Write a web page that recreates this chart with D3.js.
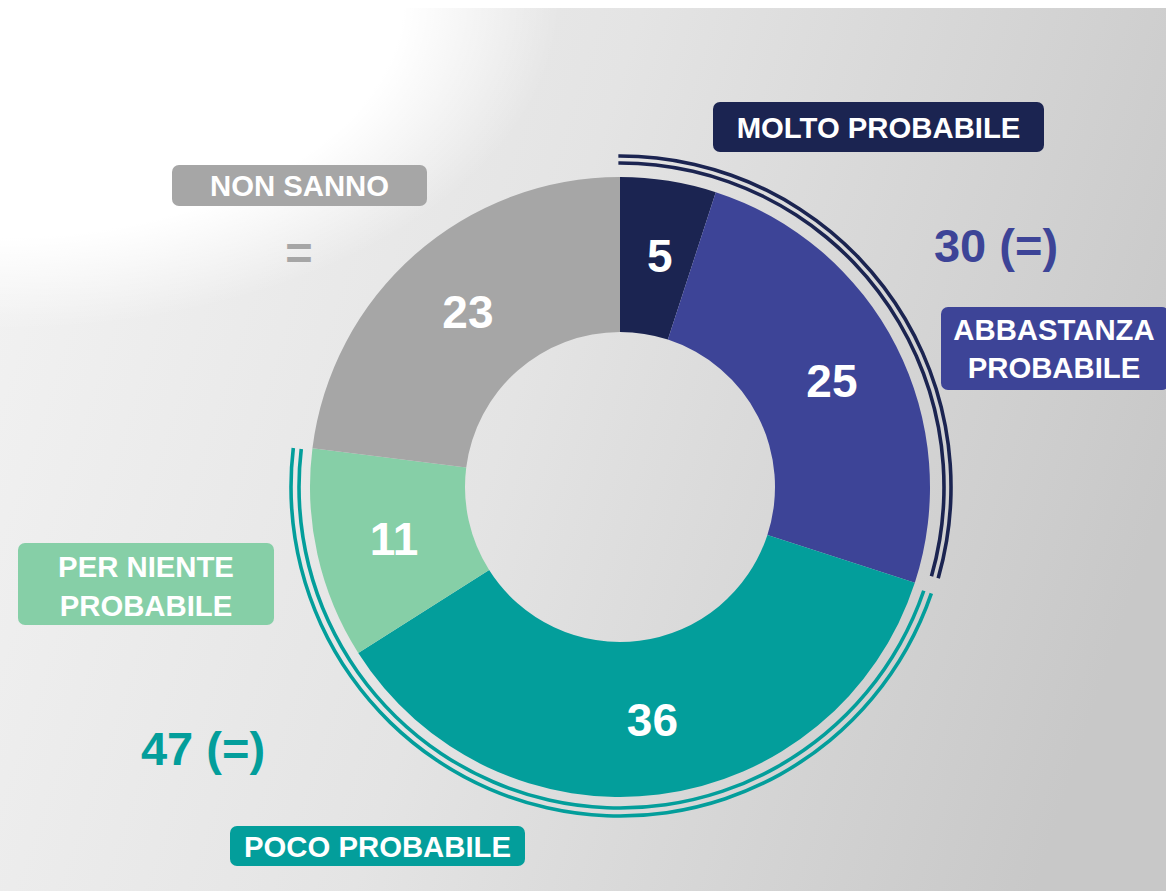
<!DOCTYPE html>
<html>
<head>
<meta charset="utf-8">
<script src="https://cdn.jsdelivr.net/npm/d3@7"></script>
<style>
  html, body { margin: 0; padding: 0; background: #fff; }
  svg { display: block; font-family: "Liberation Sans", Arial, sans-serif; }
  .box-text { fill: #fff; font-weight: bold; font-size: 29.3px; text-anchor: middle; }
  .slice-value { fill: #fff; font-weight: bold; font-size: 46px; text-anchor: middle; }
  .group-total { font-weight: bold; font-size: 47px; text-anchor: middle; }
</style>
</head>
<body>
<div id="chart"></div>
<script>
// Data: shares in %, clockwise from 12 o'clock
const categories = ["MOLTO PROBABILE", "ABBASTANZA PROBABILE", "POCO PROBABILE", "PER NIENTE PROBABILE", "NON SANNO"];
const values     = [5, 25, 36, 11, 23];

// the two grouped totals drawn as double arcs round the donut
const groupNames   = ["probabile", "improbabile"];
const groupMembers = [[0, 1], [2, 3]];
const groupTotals  = ["30 (=)", "47 (=)"];
const nonSannoNote = "=";

// Colors
const COLOR = ["#1b2451", "#3d4497", "#039e9b", "#86cfa7", "#a6a6a6"];
const GROUP_COLOR = ["#1b2451", "#039e9b"];

const W = 1166, H = 891;
const cx = 620, cy = 487;
const R = 310, r = 155;

const svg = d3.select("#chart").append("svg")
  .attr("width", W).attr("height", H)
  .attr("viewBox", `0 0 ${W} ${H}`);

// background: white top-left corner, gray gradient towards the right
const defs = svg.append("defs");
const bg = defs.append("linearGradient").attr("id", "bg")
  .attr("x1", 0).attr("y1", 0.3).attr("x2", 1).attr("y2", 0.55);
bg.append("stop").attr("offset", 0).attr("stop-color", "#f1f1f1");
bg.append("stop").attr("offset", 0.45).attr("stop-color", "#e4e4e4");
bg.append("stop").attr("offset", 1).attr("stop-color", "#c8c8c8");

const glow = defs.append("radialGradient").attr("id", "glow")
  .attr("gradientUnits", "userSpaceOnUse")
  .attr("cx", 0).attr("cy", 0).attr("r", 1)
  .attr("gradientTransform", "scale(560,330)");
glow.append("stop").attr("offset", 0).attr("stop-color", "#fff").attr("stop-opacity", 1);
glow.append("stop").attr("offset", 0.72).attr("stop-color", "#fff").attr("stop-opacity", 1);
glow.append("stop").attr("offset", 1).attr("stop-color", "#fff").attr("stop-opacity", 0);

svg.append("rect").attr("width", W).attr("height", H).attr("fill", "url(#bg)");
svg.append("rect").attr("width", W).attr("height", H).attr("fill", "url(#glow)");
svg.append("rect").attr("width", W).attr("height", 8).attr("fill", "#fff");

const g = svg.append("g").attr("transform", `translate(${cx},${cy})`);

// Donut
const pie = d3.pie().sort(null).value(d => d)(values);
const arc = d3.arc().innerRadius(r).outerRadius(R);
const labelArc = d3.arc().innerRadius(r).outerRadius(R + 4);

g.selectAll("path.slice")
  .data(pie)
  .join("path")
    .attr("class", "slice")
    .attr("fill", (d, i) => COLOR[i])
    .attr("d", arc);

g.selectAll("text.slice-value")
  .data(pie)
  .join("text")
    .attr("class", "slice-value")
    .attr("x", d => labelArc.centroid(d)[0] + 3)
    .attr("y", d => labelArc.centroid(d)[1])
    .attr("dy", "0.36em")
    .text(d => d.data);

// Double arcs around the grouped slices
const ringRadii = [[324, 331], [321, 329]];
const ringPad = [[-0.005, -0.035], [0.015, -0.007]];
groupMembers.forEach((m, gi) => {
  const a0 = pie[m[0]].startAngle + ringPad[gi][0];
  const a1 = pie[m[m.length - 1]].endAngle + ringPad[gi][1];
  ringRadii[gi].forEach(rr => {
    g.append("path")
      .attr("class", "ring ring-" + groupNames[gi])
      .attr("fill", GROUP_COLOR[gi])
      .attr("d", d3.arc().innerRadius(rr - 1.8).outerRadius(rr + 1.8).startAngle(a0).endAngle(a1)());
  });
});

// Category boxes (layout only)
const boxes = [
  { x: 713, y: 102, w: 331, h: 50, lines: [138] },
  { x: 941, y: 307, w: 228, h: 83, lines: [340, 378] },
  { x: 230, y: 826, w: 295, h: 40, lines: [857] },
  { x: 18,  y: 543, w: 256, h: 82, lines: [577, 616] },
  { x: 172, y: 165, w: 255, h: 41, lines: [196] }
];
const boxLines = [
  ["MOLTO PROBABILE"],
  ["ABBASTANZA", "PROBABILE"],
  ["POCO PROBABILE"],
  ["PER NIENTE", "PROBABILE"],
  ["NON SANNO"]
];

categories.forEach((c, i) => {
  const b = boxes[i];
  const bx = svg.append("g").attr("class", "cat-box");
  bx.append("rect")
    .attr("x", b.x).attr("y", b.y).attr("width", b.w).attr("height", b.h)
    .attr("rx", 7).attr("fill", COLOR[i]);
  boxLines[i].forEach((t, li) => {
    bx.append("text").attr("class", "box-text")
      .attr("x", b.x + b.w / 2 - (i === 1 ? 1 : 0)).attr("y", b.lines[li])
      .text(t);
  });
});

// group totals and the "=" note
svg.append("text").attr("class", "group-total")
  .attr("x", 996).attr("y", 262).attr("fill", COLOR[1]).text(groupTotals[0]);
svg.append("text").attr("class", "group-total")
  .attr("x", 203).attr("y", 765).attr("fill", COLOR[2]).text(groupTotals[1]);
svg.append("text").attr("class", "group-total")
  .attr("x", 299).attr("y", 269).attr("fill", COLOR[4]).text(nonSannoNote);
</script>
</body>
</html>
